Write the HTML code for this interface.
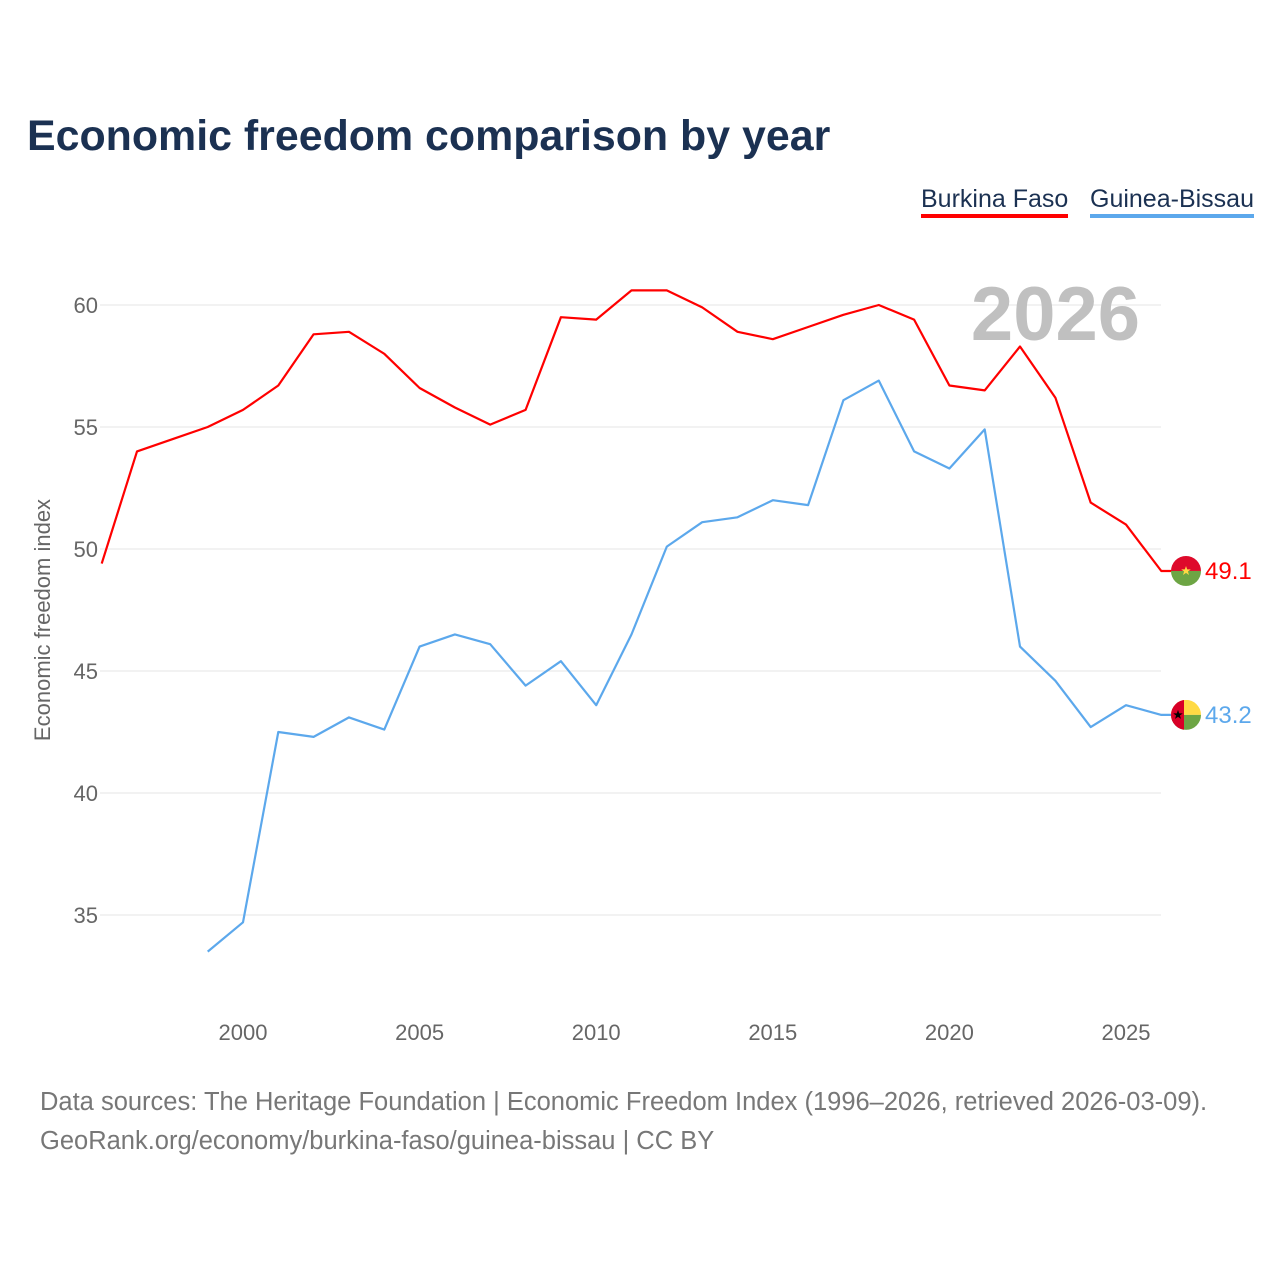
<!DOCTYPE html>
<html><head><meta charset="utf-8"><style>
body{margin:0;background:#fff;font-family:"Liberation Sans",sans-serif;}
#wrap{position:relative;width:1280px;height:1280px;overflow:hidden}
.t{position:absolute;white-space:nowrap}
</style></head><body>
<div id="wrap">
<div class="t" style="left:27px;top:112px;font-size:42.9px;font-weight:bold;color:#1b3152">Economic freedom comparison by year</div>
<div class="t" style="left:921px;top:184px;font-size:25px;color:#1b3152;border-bottom:4px solid #f00;line-height:30px">Burkina Faso</div>
<div class="t" style="left:1090px;top:184px;font-size:25px;color:#1b3152;border-bottom:4px solid #5ca8ec;line-height:30px">Guinea-Bissau</div>
<div class="t" style="left:40px;top:1083px;font-size:25.5px;color:#777;line-height:39px">Data sources: The Heritage Foundation | Economic Freedom Index (1996–2026, retrieved 2026-03-09).<br>GeoRank.org/economy/burkina-faso/guinea-bissau | CC BY</div>
<svg id="svg" width="1280" height="1280" style="position:absolute;left:0;top:0"></svg>
</div>
<script>
const years=[1996,1997,1998,1999,2000,2001,2002,2003,2004,2005,2006,2007,2008,2009,2010,2011,2012,2013,2014,2015,2016,2017,2018,2019,2020,2021,2022,2023,2024,2025,2026];
const burkina=[49.4,54.0,54.5,55.0,55.7,56.7,58.8,58.9,58.0,56.6,55.8,55.1,55.7,59.5,59.4,60.6,60.6,59.9,58.9,58.6,59.1,59.6,60.0,59.4,56.7,56.5,58.3,56.2,51.9,51.0,49.1];
const guinea=[null,null,null,33.5,34.7,42.5,42.3,43.1,42.6,46.0,46.5,46.1,44.4,45.4,43.6,46.5,50.1,51.1,51.3,52.0,51.8,56.1,56.9,54.0,53.3,54.9,46.0,44.6,42.7,43.6,43.2];
const yTicks=[35,40,45,50,55,60];
const xTicks=[2000,2005,2010,2015,2020,2025];
const X=y=>243+(y-2000)*35.32;
const Y=v=>305+(60-v)*24.4;
const svg=document.getElementById('svg');const NS='http://www.w3.org/2000/svg';
function mk(t,a,p){const e=document.createElementNS(NS,t);for(const k in a)e.setAttribute(k,a[k]);(p||svg).appendChild(e);return e;}
yTicks.forEach(v=>{
 const l=mk('line',{x1:100,x2:1161,y1:Y(v),y2:Y(v),stroke:'#e6e6e6','stroke-width':1});
 
 
 const t=mk('text',{x:98,y:Y(v)+8,'text-anchor':'end','font-size':22,fill:'#666','font-family':'Liberation Sans'});t.textContent=v;
 
 
});
xTicks.forEach(v=>{
 const t=mk('text',{x:X(v),y:1040,'text-anchor':'middle','font-size':22,fill:'#666','font-family':'Liberation Sans'});t.textContent=v;
 
 
});
const yt=mk('text',{x:0,y:0,transform:'translate(50,620) rotate(-90)','text-anchor':'middle','font-size':22,fill:'#666','font-family':'Liberation Sans'});yt.textContent='Economic freedom index';


const yr=mk('text',{x:1140,y:340,'text-anchor':'end','font-size':76,'font-weight':'bold',fill:'#c0c0c0','font-family':'Liberation Sans'});yr.textContent='2026';


function line(data,color,name){
 let d='';data.forEach((v,i)=>{if(v==null)return;d+=(d?'L':'M')+X(years[i]).toFixed(1)+' '+Y(v).toFixed(1);});
 const last=data[data.length-1];
 d+='L1180 '+Y(last).toFixed(1);
 const p=mk('path',{d:d,fill:'none',stroke:color,'stroke-width':2.2,'stroke-linejoin':'round'});
 
 
 const t=mk('text',{x:1205,y:Y(last)+8,'font-size':24,fill:color,'font-family':'Liberation Sans'});t.textContent=last.toFixed(1);
 
 
 return Y(last);
}
const by=line(burkina,'#f00','burkina-faso');
const gy=line(guinea,'#5ca8ec','guinea-bissau');
const cx=1186,r=15;
const d1=mk('defs',{});
const c1p=mk('clipPath',{id:'c1'},d1);mk('circle',{cx:cx,cy:by,r:r},c1p);
const c2p=mk('clipPath',{id:'c2'},d1);mk('circle',{cx:cx,cy:gy,r:r},c2p);
const f1=mk('g',{'clip-path':'url(#c1)'});


mk('rect',{x:cx-r,y:by-r,width:2*r,height:r,fill:'#de0a2b'},f1);
mk('rect',{x:cx-r,y:by,width:2*r,height:r,fill:'#6da544'},f1);
mk('polygon',{points:[0,-5,1.2,-1.6,4.8,-1.6,1.9,0.6,3,4,0,1.9,-3,4,-1.9,0.6,-4.8,-1.6,-1.2,-1.6].map((v,i)=>i%2?v+by:v+cx).join(' '),fill:'#ffda44'},f1);
const f2=mk('g',{'clip-path':'url(#c2)'});


mk('rect',{x:cx-r,y:gy-r,width:2*r,height:r,fill:'#ffda44'},f2);
mk('rect',{x:cx-r,y:gy,width:2*r,height:r,fill:'#6da544'},f2);
mk('rect',{x:cx-r,y:gy-r,width:r-2,height:2*r,fill:'#d80027'},f2);
const sx=cx-8;
mk('polygon',{points:[0,-5,1.2,-1.6,4.8,-1.6,1.9,0.6,3,4,0,1.9,-3,4,-1.9,0.6,-4.8,-1.6,-1.2,-1.6].map((v,i)=>i%2?v+gy:v+sx).join(' '),fill:'#000'},f2);
</script>
</body></html>
